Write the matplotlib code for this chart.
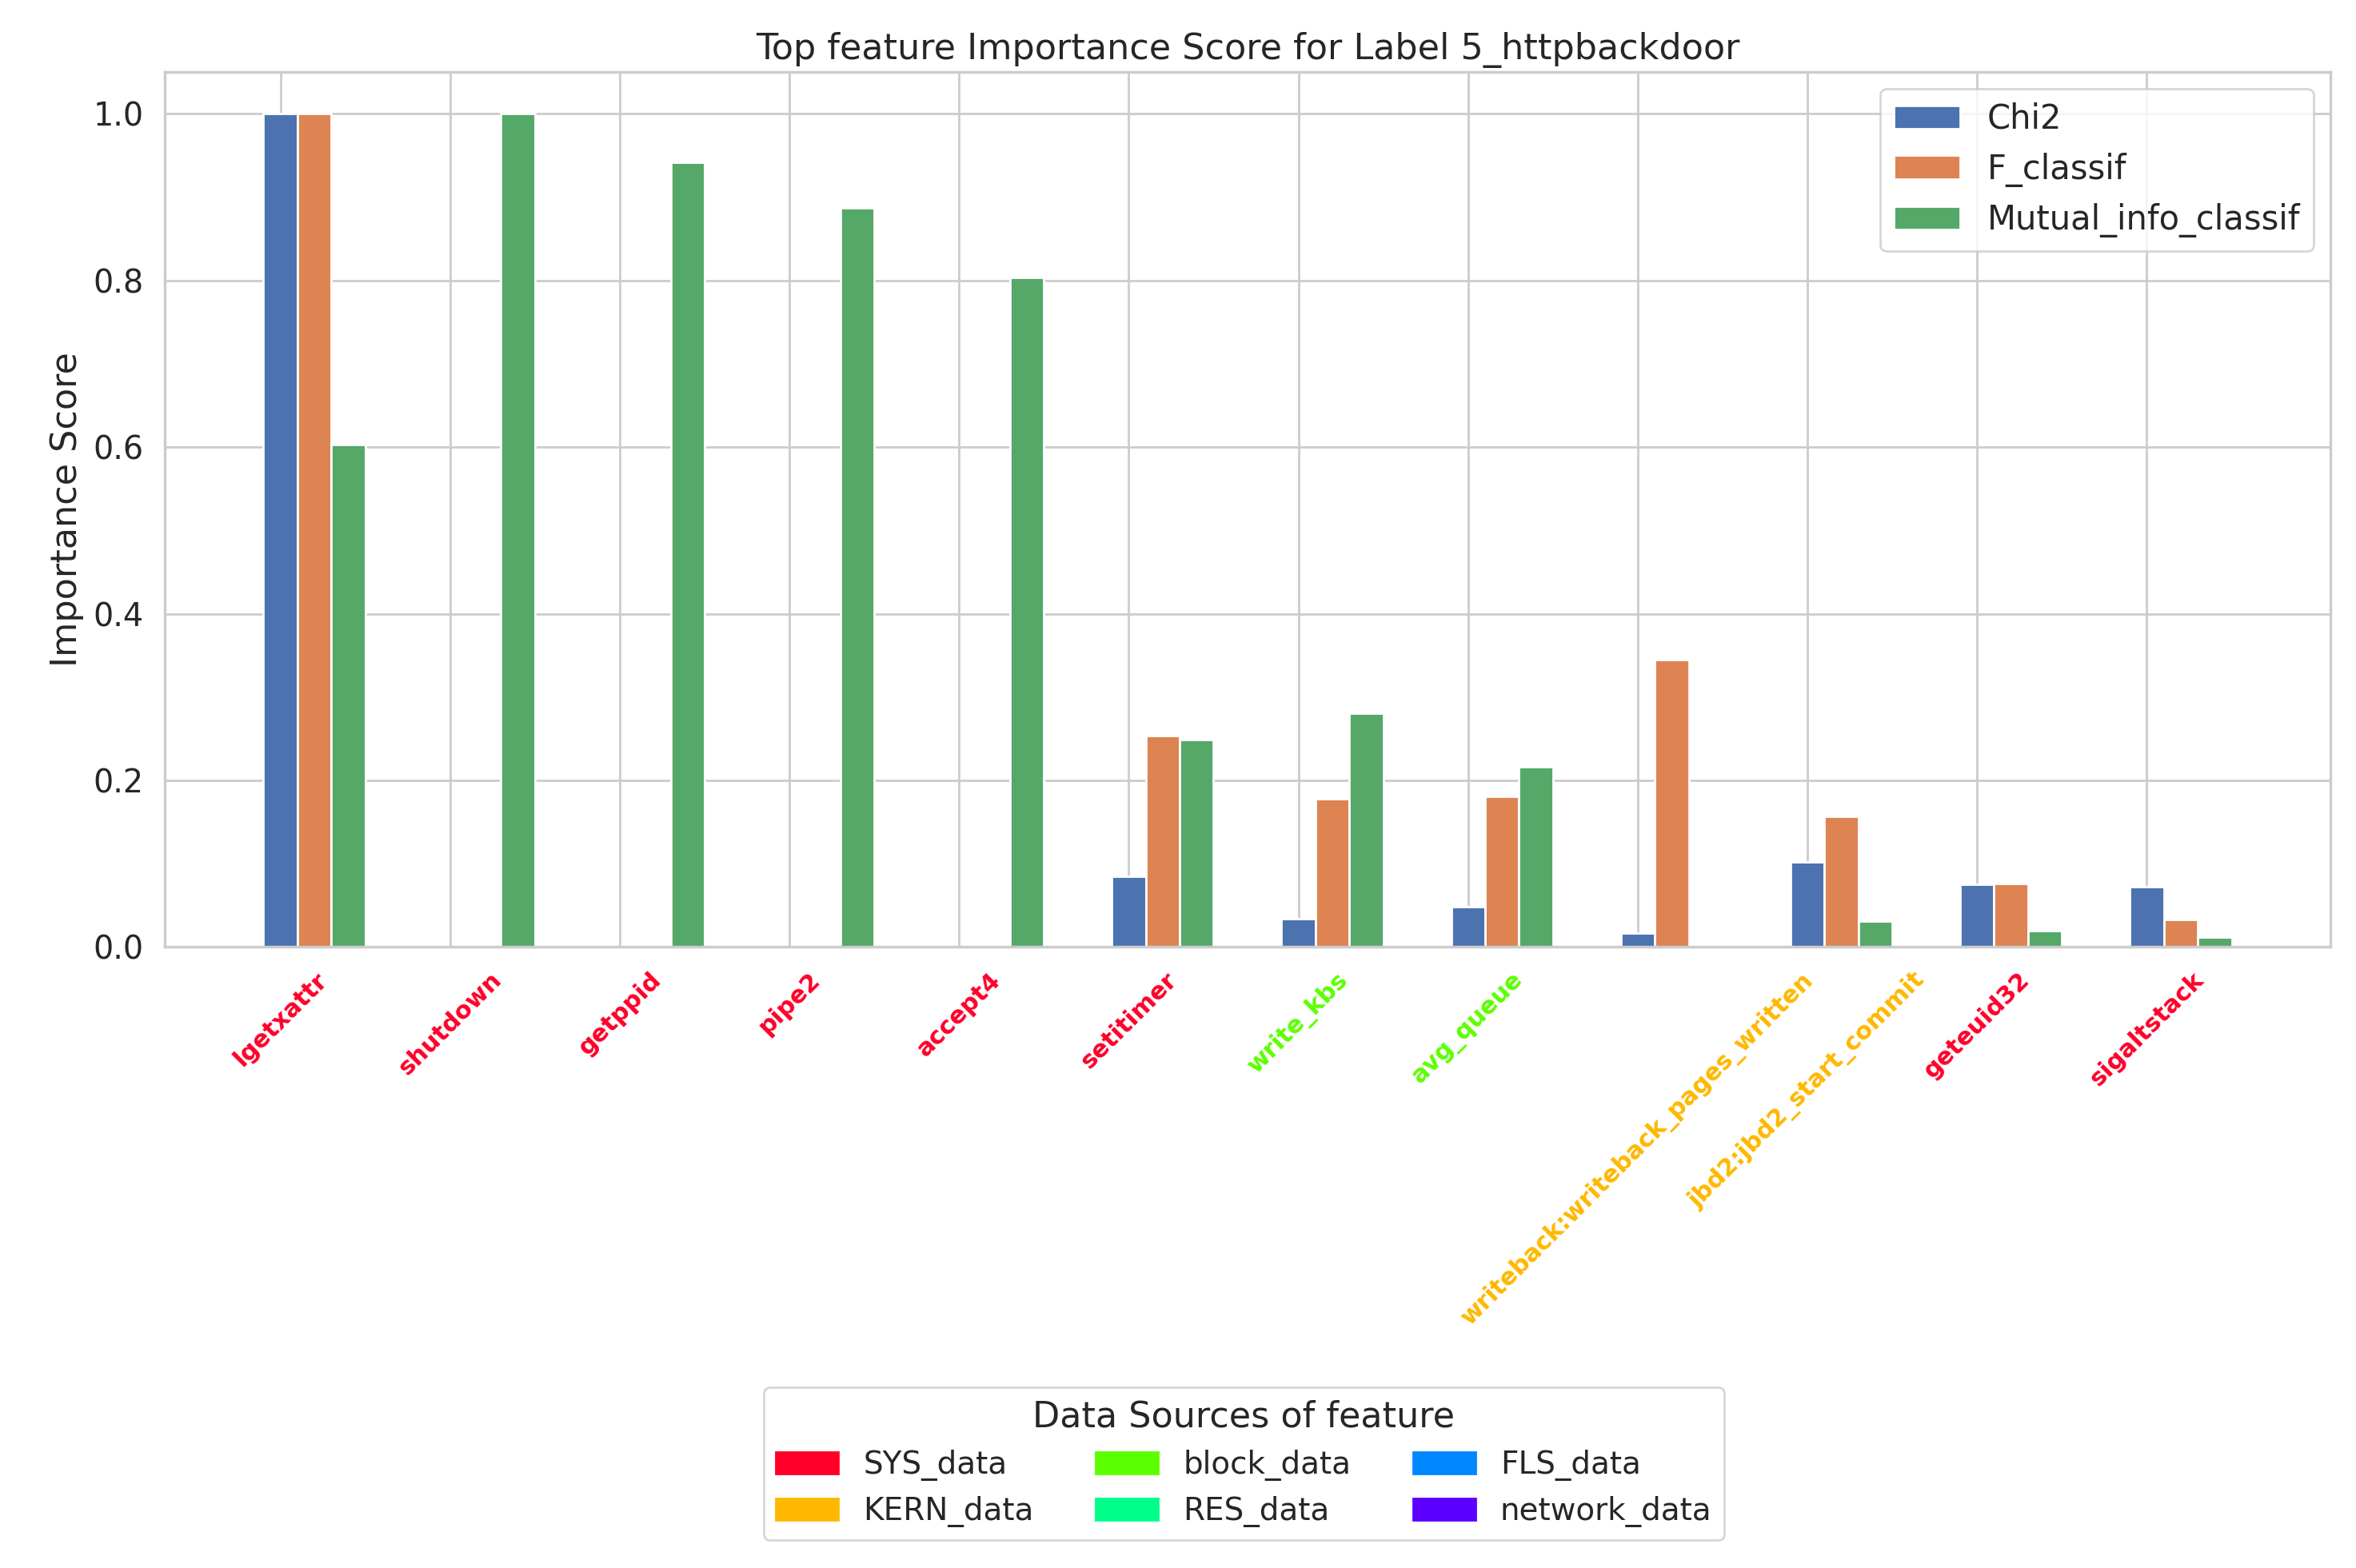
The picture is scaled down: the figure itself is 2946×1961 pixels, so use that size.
import numpy as np
import matplotlib.pyplot as plt
import seaborn as sns
from matplotlib.patches import Patch

sns.set_theme(style="whitegrid", font_scale=1.3)

features = ["lgetxattr", "shutdown", "getppid", "pipe2", "accept4", "setitimer",
            "write_kbs", "avg_queue", "writeback:writeback_pages_written",
            "jbd2:jbd2_start_commit", "geteuid32", "sigaltstack"]
sources = ["SYS_data", "SYS_data", "SYS_data", "SYS_data", "SYS_data", "SYS_data",
           "block_data", "block_data", "KERN_data", "KERN_data", "SYS_data", "SYS_data"]
chi2 = [1.0, 0, 0, 0, 0, 0.085, 0.034, 0.048, 0.017, 0.102, 0.075, 0.072]
f_classif = [1.0, 0, 0, 0, 0, 0.254, 0.178, 0.181, 0.345, 0.157, 0.076, 0.033]
mutual_info = [0.603, 1.0, 0.942, 0.887, 0.804, 0.249, 0.281, 0.216, 0.0, 0.031, 0.020, 0.012]

source_names = ["SYS_data", "KERN_data", "block_data", "RES_data", "FLS_data", "network_data"]
source_colors = ["#ff0029", "#ffb800", "#5cff00", "#00ff8a", "#0087ff", "#5c00ff"]
color_map = dict(zip(source_names, source_colors))

fig = plt.figure(figsize=(14.73, 9.805), dpi=200)
ax = fig.add_axes([0.070, 0.396, 0.919, 0.558])

x = np.arange(len(features))
w = 0.2
ax.bar(x, chi2, w, label="Chi2", color="#4c72b0")
ax.bar(x + w, f_classif, w, label="F_classif", color="#dd8452")
ax.bar(x + 2 * w, mutual_info, w, label="Mutual_info_classif", color="#55a868")

ax.set_xticks(x)
ax.set_xticklabels(features, rotation=45, fontsize=11, fontweight="bold")
for lbl, src in zip(ax.get_xticklabels(), sources):
    lbl.set_color(color_map[src])

ax.set_ylabel("Importance Score", fontsize=16)
ax.set_title("Top feature Importance Score for Label 5_httpbackdoor", fontsize=16)
ax.legend(loc="upper right", fontsize=15)

handles = [Patch(color=c, label=n) for n, c in zip(source_names, source_colors)]
fig.legend(handles=handles, title="Data Sources of feature", ncol=3,
           loc="lower center", bbox_to_anchor=(0.528, 0.008), fontsize=14,
           title_fontsize=16)

fig.savefig("out.png", dpi=200)
